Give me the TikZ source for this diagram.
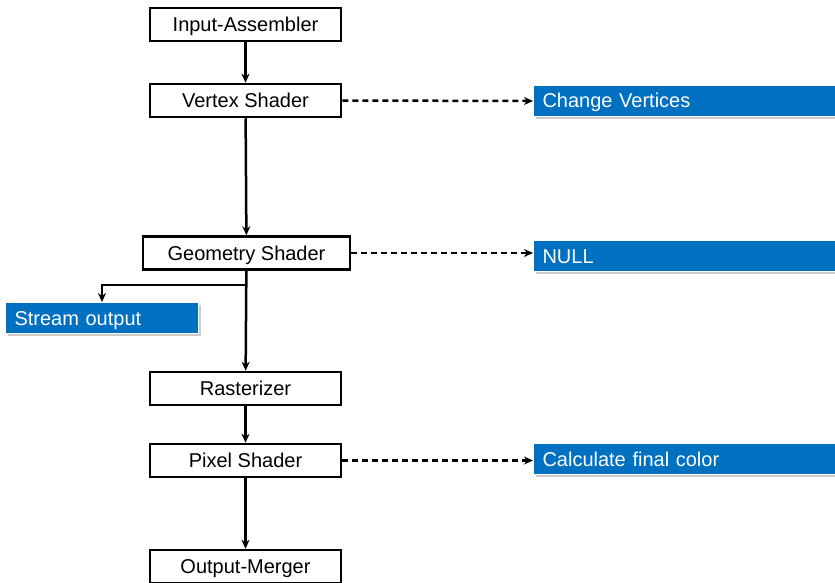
\documentclass[tikz,border=0pt]{standalone}
\usepackage{fontspec}
\setmainfont{Liberation Sans}
\usetikzlibrary{arrows.meta}
\usetikzlibrary{shadows}
\definecolor{noteblue}{HTML}{0070C0}

\tikzset{
  stage/.style={draw, line width=2.5pt, minimum width=191pt, minimum height=33pt, inner sep=0pt, text height=14pt, text depth=0pt, font=\fontsize{20}{22}\selectfont},
  note/.style={fill=noteblue, draw=white, line width=1pt, text=white, anchor=west, minimum height=31pt, inner xsep=9pt, inner ysep=0pt, text height=14pt, text depth=0pt, align=left, font=\fontsize{20}{22}\selectfont, drop shadow={shadow xshift=2pt, shadow yshift=-2.5pt, opacity=0.4, fill=gray}},
  flow/.style={line width=2.5pt, -{Stealth[length=9pt,width=8pt]}},
  hint/.style={flow, dash pattern=on 6pt off 4pt}
}

\begin{document}
\begin{tikzpicture}[x=1pt,y=-1pt]

\path[use as bounding box, clip] (0,0) rectangle (835,583);

\node[stage] (IA) at (245.5,24.5) {Input-Assembler};
\node[stage] (VS) at (245.5,100.5) {Vertex Shader};
\node[stage, minimum width=207pt] (GS) at (246.5,253) {Geometry Shader};
\node[stage] (RS) at (245.5,388.5) {Rasterizer};
\node[stage] (PS) at (245.5,460.5) {Pixel Shader};
\node[stage] (OM) at (245.5,566.5) {Output-Merger};

\node[note, text width=330pt] (CV) at (533,101) {Change Vertices};
\node[note, text width=330pt] (NL) at (533,256) {NULL};
\node[note, text width=330pt] (CF) at (533,459) {Calculate final color};
\node[note, text width=175pt] (SO) at (5,318) {Stream output};

\coordinate (split) at (245,285);

\draw[flow] (IA) -- (VS);
\draw[flow] (VS) -- (GS);
\draw[flow] (GS) -- (RS);
\draw[flow] (RS) -- (PS);
\draw[flow] (PS) -- (OM);
\draw[flow] (split) -| (SO.north);

\draw[hint] (VS.east) -- (CV.west);
\draw[hint] (GS.east) -- (GS.east -| NL.west);
\draw[hint] (PS.east) -- (PS.east -| CF.west);

\end{tikzpicture}
\end{document}
